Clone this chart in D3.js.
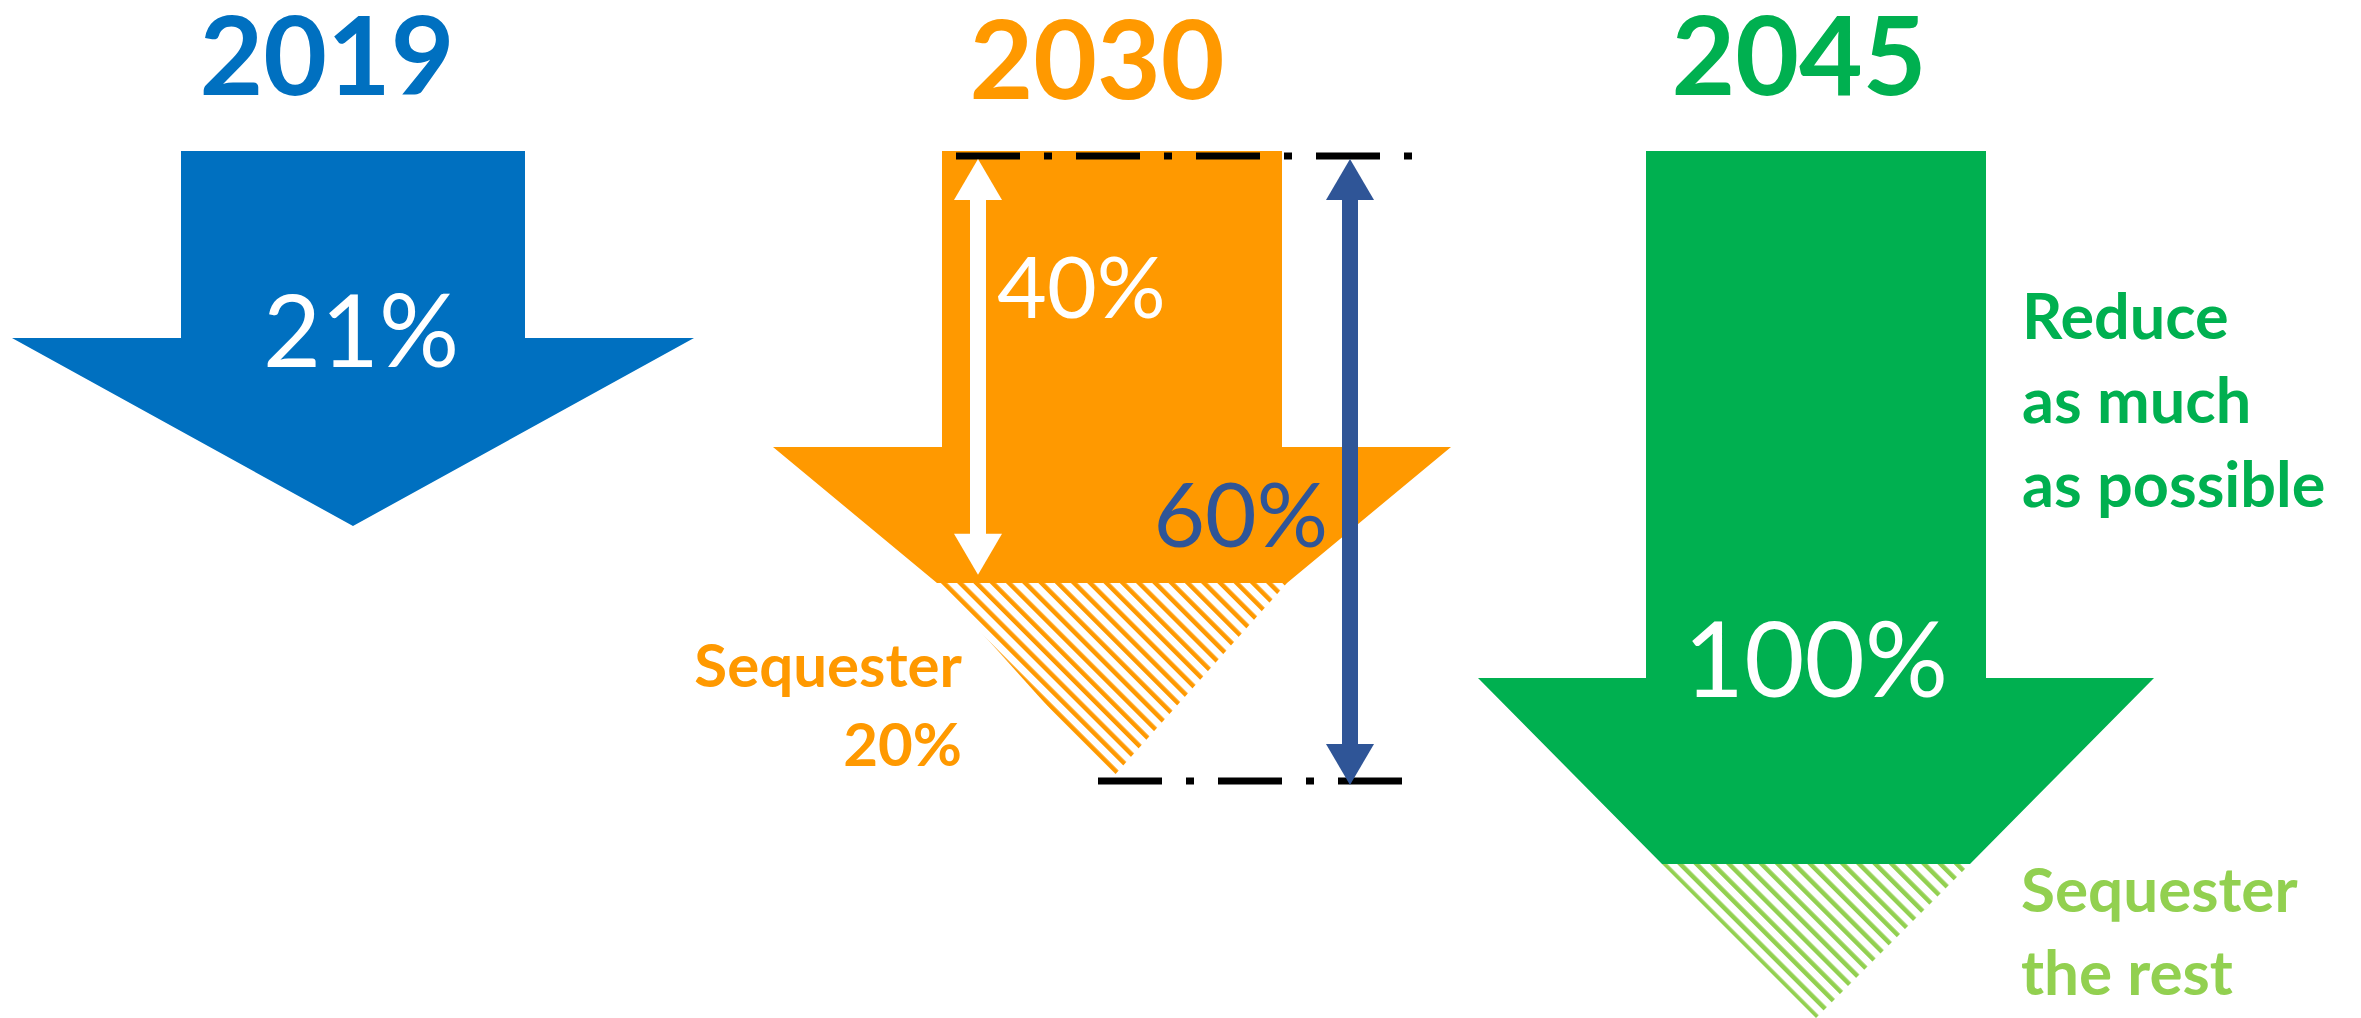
<!DOCTYPE html>
<html>
<head>
<meta charset="utf-8">
<script src="https://cdn.jsdelivr.net/npm/d3@7"></script>
<style>
  body { margin: 0; background: #fff; }
  svg { display: block; }
  text { font-family: Lato, "Open Sans", sans-serif; }
</style>
</head>
<body>
<div id="chart"></div>
<script>
// data
var years = ["2019", "2030", "2045"];
var yearColors = ["#0070C0", "#FF9900", "#00B050"];
var mainLabels = ["21%", "", "100%"];
// 2030 split: reduce / total (percent)
var reduce2030 = 40;
var total2030 = 60;
var sequester2030 = 20;
var sideNotes2045 = ["Reduce", "as much", "as possible"];
var sequesterNotes2045 = ["Sequester", "the rest"];
var sequesterNotes2030 = ["Sequester", sequester2030 + "%"];

var width = 2361, height = 1018;

var svg = d3.select("#chart")
  .append("svg")
    .attr("width", width)
    .attr("height", height);

var defs = svg.append("defs");
function hatch(id, color) {
  var p = defs.append("pattern")
    .attr("id", id)
    .attr("patternUnits", "userSpaceOnUse")
    .attr("width", 11.5)
    .attr("height", 11.5)
    .attr("patternTransform", "rotate(-45)");
  p.append("rect").attr("width", 11.5).attr("height", 11.5).attr("fill", "#fff");
  p.append("rect").attr("x", 0).attr("width", 4.5).attr("height", 11.5).attr("fill", color);
}
hatch("hatchOrange", "#FF9900");
hatch("hatchGreen", "#92D050");

// column centres
var x = d3.scaleOrdinal()
  .domain(years)
  .range([353, 1112, 1816]);

// arrow outline: shaft, head, then either a point or a flat cut
function arrow(cx, top, shaftHalf, headY, headHalf, bottomY, bottomHalf) {
  var pts = [
    [cx - shaftHalf, top], [cx + shaftHalf, top], [cx + shaftHalf, headY],
    [cx + headHalf, headY]
  ];
  if (bottomHalf > 0) {
    pts.push([cx + bottomHalf, bottomY], [cx - bottomHalf, bottomY]);
  } else {
    pts.push([cx, bottomY]);
  }
  pts.push([cx - headHalf, headY], [cx - shaftHalf, headY]);
  return "M" + pts.join("L") + "Z";
}

// 2019
svg.append("path")
  .attr("d", arrow(x("2019"), 151, 172, 338, 341, 526, 0))
  .attr("fill", yearColors[0]);

// 2030
svg.append("path")
  .attr("d", arrow(x("2030"), 151, 170, 447, 339, 583, 175))
  .attr("fill", yearColors[1]);
svg.append("path")
  .attr("d", "M" + [[x("2030") - 175, 583], [x("2030") + 175, 583], [x("2030"), 778]].join("L") + "Z")
  .attr("fill", "url(#hatchOrange)");

// 2045
svg.append("path")
  .attr("d", arrow(x("2045"), 151, 170, 678, 338, 864, 154))
  .attr("fill", yearColors[2]);
svg.append("path")
  .attr("d", "M" + [[x("2045") - 154, 864], [x("2045") + 154, 864], [x("2045"), 1018]].join("L") + "Z")
  .attr("fill", "url(#hatchGreen)");

// year titles
var titleShift = {"2019": -26, "2030": -15, "2045": -17};
svg.selectAll("text.year")
  .data(years)
  .enter()
  .append("text")
    .attr("class", "year")
    .attr("x", function(d) { return x(d) + titleShift[d]; })
    .attr("y", function(d) { return d == "2030" ? 99 : 95; })
    .attr("text-anchor", "middle")
    .attr("font-size", 110)
    .attr("font-weight", "bold")
    .attr("fill", function(d, i) { return yearColors[i]; })
    .text(function(d) { return d; });

// 2030 dimension scale
var y = d3.scaleLinear()
  .domain([0, total2030])
  .range([156, 781]);

function dimLine(x0, x1, yy) {
  svg.append("line")
    .attr("x1", x0).attr("x2", x1)
    .attr("y1", yy).attr("y2", yy)
    .attr("stroke", "#000")
    .attr("stroke-width", 7)
    .attr("stroke-dasharray", "64 24 8 24");
}
dimLine(956, 1412, y(0));
dimLine(1098, 1403, y(total2030));

function doubleArrow(cx, y0, y1, color) {
  var hl = 41, hw = 24, sw = 8;
  var g = svg.append("g");
  g.append("rect")
    .attr("x", cx - sw).attr("y", y0 + hl - 1)
    .attr("width", sw * 2).attr("height", y1 - y0 - 2 * hl + 2)
    .attr("fill", color);
  g.append("path")
    .attr("d", "M" + [[cx, y0], [cx + hw, y0 + hl], [cx - hw, y0 + hl]].join("L") + "Z")
    .attr("fill", color);
  g.append("path")
    .attr("d", "M" + [[cx, y1], [cx + hw, y1 - hl], [cx - hw, y1 - hl]].join("L") + "Z")
    .attr("fill", color);
}
doubleArrow(978, y(0) + 3, y(reduce2030) + 2, "#fff");
doubleArrow(1350, y(0) + 3, y(total2030) + 4, "#2F5597");

// value labels
svg.append("text")
  .attr("x", x("2019") + 8).attr("y", 367)
  .attr("text-anchor", "middle")
  .attr("font-size", 100)
  .attr("fill", "#fff")
  .text(mainLabels[0]);

svg.append("text")
  .attr("x", 997).attr("y", 318)
  .attr("font-size", 86)
  .attr("fill", "#fff")
  .text(reduce2030 + "%");

svg.append("text")
  .attr("x", 1328).attr("y", 547)
  .attr("text-anchor", "end")
  .attr("font-size", 89)
  .attr("fill", "#2F5597")
  .text(total2030 + "%");

svg.append("text")
  .attr("x", x("2045")).attr("y", 697)
  .attr("text-anchor", "middle")
  .attr("font-size", 104)
  .attr("fill", "#fff")
  .text(mainLabels[2]);

// side notes
svg.selectAll("text.seq2030")
  .data(sequesterNotes2030)
  .enter()
  .append("text")
    .attr("class", "seq2030")
    .attr("x", 962)
    .attr("y", function(d, i) { return 687 + i * 79; })
    .attr("text-anchor", "end")
    .attr("font-size", 60)
    .attr("font-weight", "bold")
    .attr("fill", "#FF9900")
    .text(function(d) { return d; });

svg.selectAll("text.red2045")
  .data(sideNotes2045)
  .enter()
  .append("text")
    .attr("class", "red2045")
    .attr("x", 2022)
    .attr("y", function(d, i) { return 339 + i * 84; })
    .attr("font-size", 63)
    .attr("font-weight", "bold")
    .attr("fill", "#00B050")
    .text(function(d) { return d; });

svg.selectAll("text.seq2045")
  .data(sequesterNotes2045)
  .enter()
  .append("text")
    .attr("class", "seq2045")
    .attr("x", 2021)
    .attr("y", function(d, i) { return 912 + i * 83; })
    .attr("font-size", 62)
    .attr("font-weight", "bold")
    .attr("fill", "#92D050")
    .text(function(d) { return d; });
</script>
</body>
</html>
